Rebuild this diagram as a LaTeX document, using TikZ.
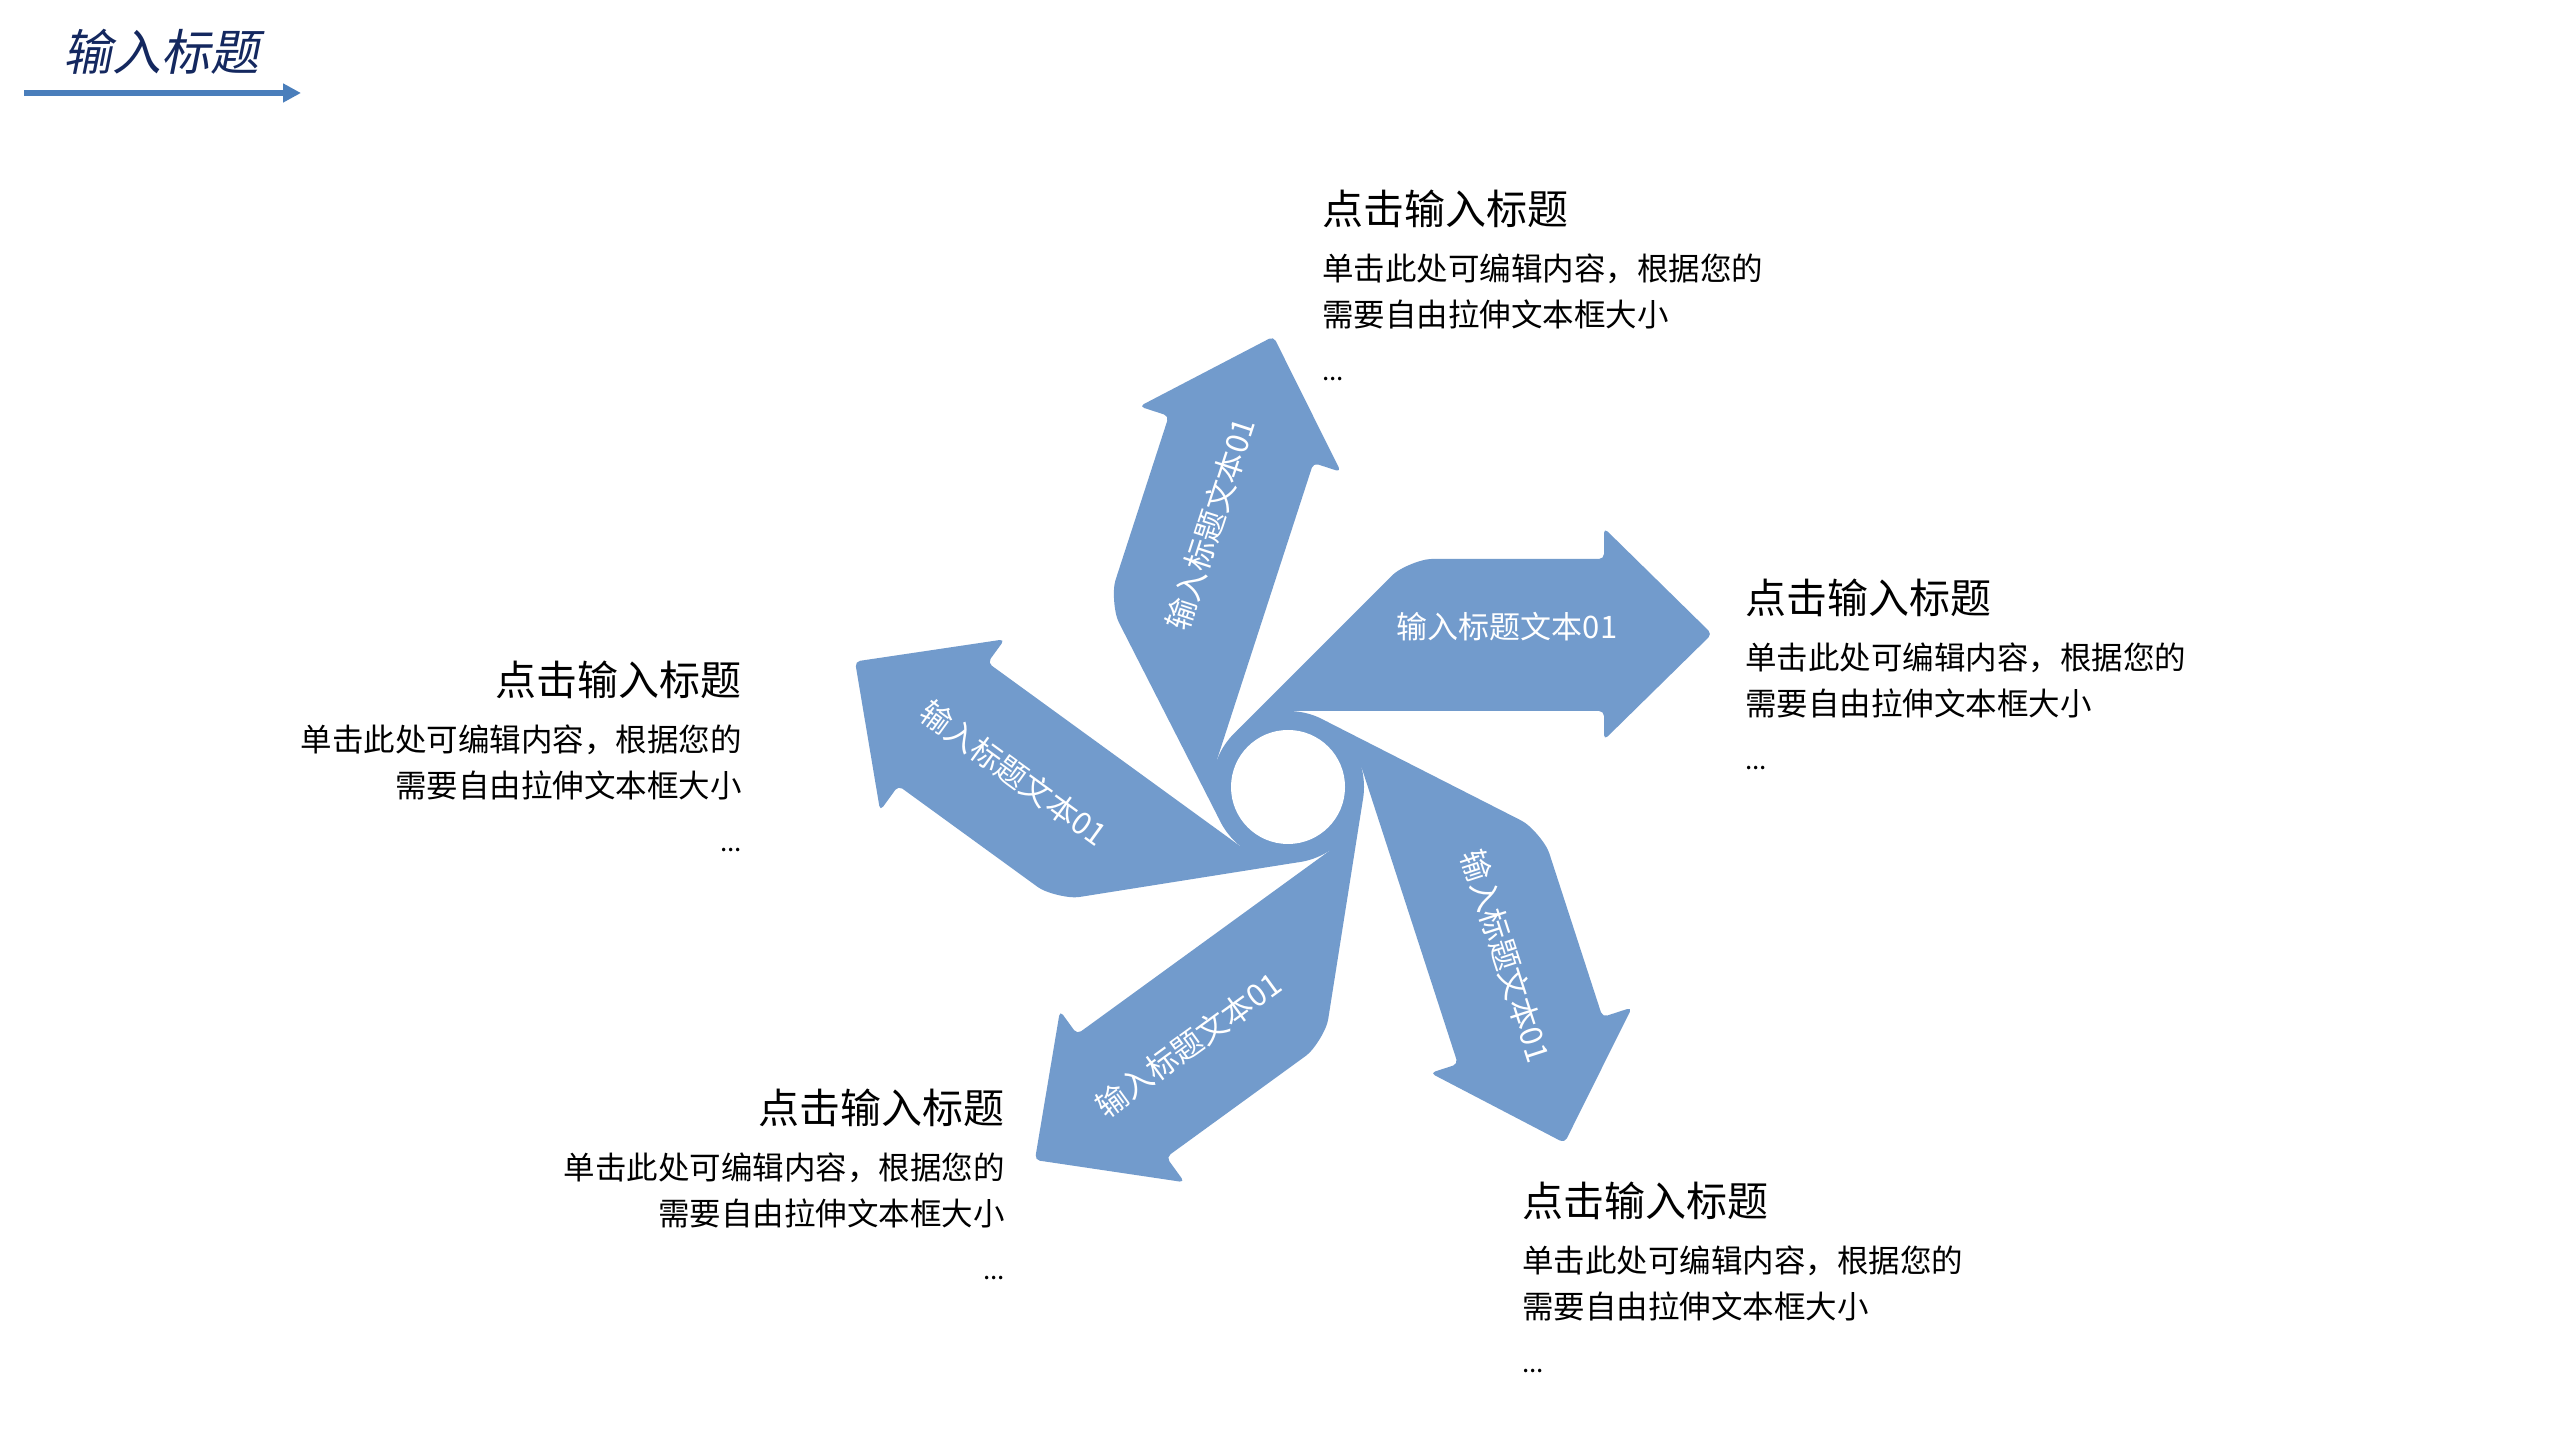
\documentclass[tikz,border=0pt]{standalone}
\usepackage{fontspec}
\setmainfont{Noto Sans CJK SC}
\newfontfamily\slfont[FakeSlant=0.2]{Noto Sans CJK SC}
\usetikzlibrary{arrows.meta}
\definecolor{arrowblue}{RGB}{114,155,204}
\definecolor{linkblue}{RGB}{74,126,187}
\definecolor{navy}{RGB}{20,40,95}
\newcommand{\ttlfont}{\fontsize{41}{49}\selectfont}
\newcommand{\bdyfont}{\fontsize{31.5}{38}\selectfont}
\newcommand{\dotfont}{\fontsize{26}{30}\selectfont}
\newcommand{\arrfont}{\fontsize{31}{36}\selectfont}
\newcommand{\armpath}{(0,76) -- (316,76) -- (316,47) -- (424,153) -- (316,259) -- (316,228) -- (148.5,228) .. controls (133.1,228) and (111.6,219.1) .. (100.7,208.2) -- (-53.7,53.7) -- (0,0) -- cycle}
\tikzset{
  arm/.style={fill=arrowblue, rounded corners=5pt},
  armtext/.style={text=white, font=\arrfont, inner sep=0pt, anchor=center},
  ttl/.style={font=\ttlfont, text=black, inner sep=0pt},
  bdy/.style={font=\bdyfont, text=black, inner sep=0pt},
  dts/.style={font=\dotfont, text=black, inner sep=0pt}
}
\begin{document}
\begin{tikzpicture}[x=1pt,y=1pt]
\useasboundingbox (0,0) rectangle (2560,1440);
\fill[white] (0,0) rectangle (2560,1440);

% header
\node[anchor=base west, inner sep=0pt, text=navy, font=\slfont\fontsize{49}{56}\selectfont] (head) at (63,1369) {输入标题};
\coordinate (hs) at (24,1347);
\coordinate (he) at (301,1347);
\draw[linkblue, line width=6.5pt, -{Triangle[length=18pt,width=18pt]}] (hs) -- (he);

% pinwheel
\coordinate (C) at (1288,653);
\fill[arrowblue] (C) circle[radius=76];
\begin{scope}[shift={(1288,653)}, rotate=0]
  \fill[arm] \armpath;
\end{scope}
\begin{scope}[shift={(1288,653)}, rotate=72]
  \fill[arm] \armpath;
\end{scope}
\begin{scope}[shift={(1288,653)}, rotate=144]
  \fill[arm] \armpath;
\end{scope}
\begin{scope}[shift={(1288,653)}, rotate=216]
  \fill[arm] \armpath;
\end{scope}
\begin{scope}[shift={(1288,653)}, rotate=288]
  \fill[arm] \armpath;
\end{scope}
\fill[white] (C) circle[radius=57];

\begin{scope}[shift={(1288,653)}, rotate=0]
  \node[armtext, rotate=0] (lab1) at (219,160) {输入标题文本01};
\end{scope}
\begin{scope}[shift={(1288,653)}, rotate=72]
  \node[armtext, rotate=72] (lab2) at (226,155) {输入标题文本01};
\end{scope}
\begin{scope}[shift={(1288,653)}, rotate=144]
  \node[armtext, rotate=-36] (lab3) at (230,150) {输入标题文本01};
\end{scope}
\begin{scope}[shift={(1288,653)}, rotate=216]
  \node[armtext, rotate=36] (lab4) at (232,150) {输入标题文本01};
\end{scope}
\begin{scope}[shift={(1288,653)}, rotate=288]
  \node[armtext, rotate=288] (lab5) at (228,155) {输入标题文本01};
\end{scope}

% top block
\node[ttl, anchor=base west] (t1) at (1322,1215) {点击输入标题};
\node[bdy, anchor=base west] (b1a) at (1322,1159) {单击此处可编辑内容，根据您的};
\node[bdy, anchor=base west] (b1b) at (1322,1113) {需要自由拉伸文本框大小};
\node[dts, anchor=base west] (d1) at (1322,1059) {...};

% right block
\node[ttl, anchor=base west] (t2) at (1745,826) {点击输入标题};
\node[bdy, anchor=base west] (b2a) at (1745,770) {单击此处可编辑内容，根据您的};
\node[bdy, anchor=base west] (b2b) at (1745,724) {需要自由拉伸文本框大小};
\node[dts, anchor=base west] (d2) at (1745,670) {...};

% left block
\node[ttl, anchor=base east] (t3) at (742,744) {点击输入标题};
\node[bdy, anchor=base east] (b3a) at (742,688) {单击此处可编辑内容，根据您的};
\node[bdy, anchor=base east] (b3b) at (742,642) {需要自由拉伸文本框大小};
\node[dts, anchor=base east] (d3) at (742,588) {...};

% lower-left block
\node[ttl, anchor=base east] (t4) at (1005,316) {点击输入标题};
\node[bdy, anchor=base east] (b4a) at (1005,260) {单击此处可编辑内容，根据您的};
\node[bdy, anchor=base east] (b4b) at (1005,214) {需要自由拉伸文本框大小};
\node[dts, anchor=base east] (d4) at (1005,160) {...};

% lower-right block
\node[ttl, anchor=base west] (t5) at (1522,223) {点击输入标题};
\node[bdy, anchor=base west] (b5a) at (1522,167) {单击此处可编辑内容，根据您的};
\node[bdy, anchor=base west] (b5b) at (1522,121) {需要自由拉伸文本框大小};
\node[dts, anchor=base west] (d5) at (1522,67) {...};
\end{tikzpicture}
\end{document}
